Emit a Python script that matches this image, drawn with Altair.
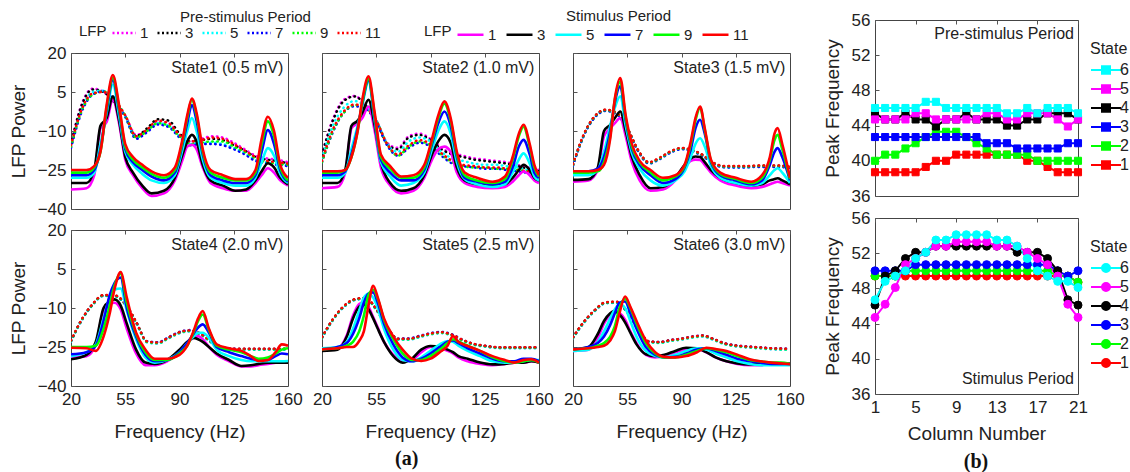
import altair as alt
import pandas as pd

FONT = "Liberation Sans"
TXT = "#222222"

# ---------------- categories / labels ----------------
LFP_IDS = ["1", "3", "5", "7", "9", "11"]
LFP_COLORS = ["#ff00ff", "#000000", "#00ffff", "#0000ff", "#00ff00", "#ff0000"]
PRE_KEYS = ["p" + k for k in LFP_IDS]
STIM_KEYS = ["s" + k for k in LFP_IDS]
STATE_IDS = ["6", "5", "4", "3", "2", "1"]
STATE_COLORS = ["#00ffff", "#ff00ff", "#000000", "#0000ff", "#00ff00", "#ff0000"]
STATE_LABELS = ["State1 (0.5 mV)", "State2 (1.0 mV)", "State3 (1.5 mV)",
                "State4 (2.0 mV)", "State5 (2.5 mV)", "State6 (3.0 mV)"]
FREQ_TICKS = [20, 55, 90, 125, 160]
POWER_TICKS = [20, 5, -10, -25, -40]
COLUMN_TICKS = [1, 5, 9, 13, 17, 21]
PEAK_TICKS = [36, 40, 44, 48, 52, 56]
COLUMNS = list(range(1, 22))

# ---------------- pre-stimulus LFP power (dotted) ----------------
FREQ_PRE = [20, 27, 34, 41, 48, 55, 62, 69, 76, 83, 90, 97, 104, 111, 118, 125, 132, 139, 146, 153, 160]

PRE_1 = {
    "1": [-15, 0.5, 6.3, 5, 1, -4, -11.5, -9.5, -6.5, -7, -11.5, -14, -13, -12, -12.5, -14.5, -17, -19.5, -20.5, -21, -22],
    "3": [-15, 0, 6, 5, 1, -4.5, -12, -9, -5.5, -6, -11, -14, -13.5, -13, -13.5, -15.5, -17.5, -20, -21, -21.5, -22.5],
    "5": [-16, -1.5, 5, 5.5, 1.5, -4.5, -12.5, -10, -7, -8, -12, -15, -14.5, -14.5, -15, -16.5, -18.5, -21, -22, -22.5, -23],
    "7": [-16.5, -2.5, 4, 5.2, 2, -4.5, -13, -10.5, -7.5, -8.5, -12.5, -15.5, -15, -15, -15.5, -17, -19, -21.5, -22.5, -23, -23.5],
    "9": [-16, -2, 4, 5.2, 2, -4, -12.5, -10, -7, -8, -12, -15, -14.5, -14, -14, -16, -18, -20.5, -22, -22.5, -23],
    "11": [-15.5, -1.5, 4.5, 5, 2, -4, -12, -9.5, -6, -7, -11.5, -14, -13.5, -12.5, -13, -15, -17.5, -20, -21.5, -22, -22.5],
}
PRE_2 = {
    "1": [-19, -5.5, 2, 3.5, 0, -6, -14.5, -16.5, -12, -11, -13, -16.5, -18.5, -19.5, -20.5, -21, -21.5, -22, -23, -24, -25],
    "3": [-19, -6, 1.5, 3.3, 0, -6, -15, -17, -12.5, -11.5, -13.5, -17, -19, -20, -21, -21.5, -22, -22.5, -23.5, -24.5, -25.5],
    "5": [-20.5, -8, -1, 1.5, -0.5, -6, -15, -18, -14, -12.5, -14, -18, -20.5, -21.5, -22.5, -23, -23, -23.5, -24, -25, -25.5],
    "7": [-22, -10.5, -3, -0.5, -1.5, -6.5, -15.5, -19.5, -16.5, -14.5, -16, -19.5, -22.5, -23.5, -24, -24.5, -24.5, -25, -25.5, -26, -26],
    "9": [-22, -10, -3, 0, -1, -6, -15, -19.5, -16, -14, -15.5, -19, -22, -23.5, -24, -24, -24.5, -24.5, -25, -25.5, -26],
    "11": [-21.5, -9.5, -2.5, 0.2, -1, -6, -15, -19, -15.5, -13.5, -15, -18.5, -21.5, -23, -23.5, -24, -24, -24.5, -25, -25.5, -26],
}
PRE_3 = {
    "1": [-23.1, -11.6, -4.6, -2.1, -3.2, -9.1, -17.6, -22.3, -20.6, -18.1, -16.8, -17.6, -19.6, -22.6, -23.8, -23.8, -23.8, -23.6, -23.6, -23.6, -24.1],
    "3": [-22.9, -11.4, -4.4, -1.9, -3, -8.9, -17.4, -22.1, -20.4, -17.9, -16.6, -17.4, -19.4, -22.4, -23.6, -23.6, -23.6, -23.4, -23.4, -23.4, -23.9],
    "5": [-23.2, -11.7, -4.7, -2.2, -3.3, -9.2, -17.7, -22.4, -20.7, -18.2, -16.9, -17.7, -19.7, -22.7, -23.9, -23.9, -23.9, -23.7, -23.7, -23.7, -24.2],
    "7": [-23.3, -11.8, -4.8, -2.3, -3.4, -9.3, -17.8, -22.5, -20.8, -18.3, -17, -17.8, -19.8, -22.8, -24, -24, -24, -23.8, -23.8, -23.8, -24.3],
    "9": [-23, -11.5, -4.5, -2, -3.1, -9, -17.5, -22.2, -20.5, -18, -16.7, -17.5, -19.5, -22.5, -23.7, -23.7, -23.7, -23.5, -23.5, -23.5, -24],
    "11": [-22.8, -11.2, -4.3, -1.8, -3, -8.8, -17.3, -22, -20.2, -17.8, -16.5, -17.3, -19.3, -22.3, -23.5, -23.5, -23.5, -23.3, -23.3, -23.3, -23.8],
}
PRE_4 = {
    "1": [-22.8, -14.6, -8.7, -5.3, -5.4, -8.6, -15.6, -23.1, -23.6, -21.6, -19.6, -18.9, -20.4, -23.4, -25.4, -26, -26, -26, -26, -26, -26],
    "3": [-22.6, -14.4, -8.5, -5.1, -5.2, -8.4, -15.4, -22.9, -23.4, -21.4, -19.4, -18.7, -20.2, -23.2, -25.2, -25.8, -25.8, -25.8, -25.8, -25.8, -25.8],
    "5": [-22.9, -14.7, -8.8, -5.4, -5.5, -8.7, -15.7, -23.2, -23.7, -21.7, -19.7, -19, -20.5, -23.5, -25.5, -26.1, -26.1, -26.1, -26.1, -26.1, -26.1],
    "7": [-22.7, -14.5, -8.6, -5.2, -5.3, -8.5, -15.5, -22.8, -23.2, -21.2, -19.2, -18.5, -20, -23, -25.1, -25.7, -25.8, -25.8, -25.8, -25.8, -25.8],
    "9": [-22.7, -14.5, -8.6, -5.2, -5.3, -8.5, -15.5, -23, -23.5, -21.5, -19.5, -18.8, -20.3, -23.3, -25.3, -25.9, -25.9, -25.9, -25.9, -25.9, -25.9],
    "11": [-22.5, -14.3, -8.4, -5, -5.1, -8.3, -15.3, -22.8, -23.3, -21.3, -19.3, -18.6, -20.1, -23.1, -25.1, -25.7, -25.7, -25.7, -25.7, -25.7, -25.7],
}
PRE_5 = {
    "1": [-21.5, -14.6, -9.6, -6.9, -6.4, -10.6, -17.6, -22.1, -22.1, -21.1, -20.1, -19.6, -20.6, -22.6, -24.1, -24.8, -25.3, -25.4, -25.4, -25.4, -25.4],
    "3": [-21.3, -14.4, -9.4, -6.7, -6.2, -10.4, -17.4, -21.9, -21.9, -20.9, -19.9, -19.4, -20.4, -22.4, -23.9, -24.6, -25.1, -25.2, -25.2, -25.2, -25.2],
    "5": [-21.6, -14.7, -9.7, -7, -6.5, -10.7, -17.7, -22.2, -22.2, -21.2, -20.2, -19.7, -20.7, -22.7, -24.2, -24.9, -25.4, -25.5, -25.5, -25.5, -25.5],
    "7": [-21.4, -14.5, -9.5, -6.8, -6.3, -10.5, -17.5, -21.8, -21.7, -20.7, -19.7, -19.2, -20.2, -22.3, -23.9, -24.6, -25.1, -25.2, -25.2, -25.2, -25.2],
    "9": [-21.4, -14.5, -9.5, -6.8, -6.3, -10.5, -17.5, -22, -22, -21, -20, -19.5, -20.5, -22.5, -24, -24.7, -25.2, -25.3, -25.3, -25.3, -25.3],
    "11": [-21.2, -14.3, -9.3, -6.6, -6.1, -10.3, -17.3, -21.8, -21.8, -20.8, -19.8, -19.3, -20.3, -22.3, -23.8, -24.5, -25, -25.1, -25.1, -25.1, -25.1],
}
PRE_6 = {
    "1": [-21.5, -15.6, -11.1, -8.1, -7.9, -11.6, -18.1, -23.1, -23.4, -22.6, -22.1, -21.3, -20.9, -22.3, -23.9, -24.7, -25.1, -25.4, -25.7, -25.9, -26],
    "3": [-21.3, -15.4, -10.9, -7.9, -7.7, -11.4, -17.9, -22.9, -23.2, -22.4, -21.9, -21.1, -20.7, -22.1, -23.7, -24.5, -24.9, -25.2, -25.5, -25.7, -25.8],
    "5": [-21.6, -15.7, -11.2, -8.2, -8, -11.7, -18.2, -23.2, -23.5, -22.7, -22.2, -21.4, -21, -22.4, -24, -24.8, -25.2, -25.5, -25.8, -26, -26.1],
    "7": [-21.4, -15.5, -11, -8, -7.8, -11.5, -18, -22.9, -23.1, -22.3, -21.8, -21, -20.6, -22, -23.6, -24.4, -24.8, -25.1, -25.4, -25.6, -25.7],
    "9": [-21.4, -15.5, -11, -8, -7.8, -11.5, -18, -23, -23.3, -22.5, -22, -21.2, -20.8, -22.2, -23.8, -24.6, -25, -25.3, -25.6, -25.8, -25.9],
    "11": [-21.2, -15.3, -10.8, -7.8, -7.6, -11.3, -17.8, -22.8, -23.1, -22.3, -21.8, -21, -20.6, -22, -23.6, -24.4, -24.8, -25.1, -25.4, -25.6, -25.7],
}

# ---------------- stimulus LFP power (solid) ----------------
FREQ_STIM_1 = [20, 30, 35, 39, 43, 47, 51, 55, 60, 66, 72, 80, 87, 92, 95, 98, 101, 105, 110, 118, 126, 133, 139, 143, 147, 151, 155, 160]
STIM_1 = {
    "1": [-32.5, -32, -27, -9, -6.5, 2, -7, -21, -27, -32, -35, -34, -29, -21, -16, -15.3, -17, -24, -30, -32, -33, -33, -30, -27, -24.3, -26, -29, -31],
    "3": [-30, -30, -25, -8, -5, 3.3, -6, -20, -26, -31, -34, -33, -28, -19, -14, -11.5, -14, -23, -29, -31, -33, -32.5, -29, -25.5, -22.4, -24, -28, -30.5],
    "5": [-28, -28, -26, -15, -3, 7.8, -4, -18, -23, -26.5, -29, -30, -27, -17, -10, -5, -10, -21, -28, -30, -31, -31, -28, -22, -16.6, -19.5, -26.5, -30],
    "7": [-27, -27, -25, -17, -2, 9.5, -2, -17, -22, -25, -27.5, -29, -26, -15, -7, 0, -6, -19, -27, -29, -30, -30, -27, -18, -9.6, -15, -25, -29.5],
    "9": [-26, -26, -24, -18, -1, 10.5, -1, -16, -21, -24, -26.5, -28, -25, -14, -5, 2, -4, -18, -26, -28, -29, -29, -26, -15, -6.3, -12, -24, -29],
    "11": [-25, -25, -23.5, -18, 0, 11.5, 0, -15, -20, -23, -25.5, -27, -24, -13, -4, 2.5, -3, -17, -25, -27, -28.5, -28.5, -25, -13, -4.5, -10, -23, -28],
}
FREQ_STIM_2 = [20, 30, 35, 39, 43, 46, 50, 54, 58, 64, 71, 79, 86, 91, 95, 99, 103, 107, 112, 120, 130, 138, 143, 147, 150, 154, 157, 160]
STIM_2 = {
    "1": [-32, -31.5, -26, -9, -7, -5, -0.6, -10, -24, -31, -34, -33, -28, -21, -17, -16, -18, -26, -30, -31.5, -32, -31.5, -29.5, -27, -25.6, -27, -29, -30],
    "3": [-30, -30, -25, -8, -6, -3, 2, -8, -22, -30, -33, -32, -27, -19, -14, -11.5, -14.5, -24, -29, -30.5, -31, -30.5, -28, -25, -23, -25, -28, -29],
    "5": [-28, -28, -26, -17, -8, 0, 9, -6, -22, -27.5, -31, -30, -26, -17, -10, -6.3, -11, -22, -28.5, -30.5, -31.5, -30.5, -26, -21, -18.6, -22.5, -27.5, -29],
    "7": [-27, -27, -25.5, -19, -9, 0.5, 9.5, -5, -21, -26, -29, -29, -25, -15, -7, -2.5, -8, -20, -28, -29.5, -30.5, -29.5, -24, -16, -13.4, -19, -26, -28],
    "9": [-26, -26, -25, -20, -10, 1, 10, -4, -20, -24.5, -28, -28, -24, -14, -5, 0.5, -6, -19, -27, -29, -30, -28.5, -21, -12, -8.3, -16, -24, -27.5],
    "11": [-25.5, -25.5, -25, -20, -10, 2, 11, -3, -19, -23.5, -27.5, -27, -23, -13, -4, 1.4, -5, -18, -26, -28, -29.5, -27.5, -20, -11, -7.6, -15, -23, -27],
}
FREQ_STIM_3 = [20, 30, 36, 40, 44, 47, 50.5, 54, 58, 63, 70, 78, 86, 92, 96, 99, 102, 105, 109, 115, 125, 135, 142, 147, 150, 152, 155, 160]
STIM_3 = {
    "1": [-29.5, -29, -25, -12, -9, -7, -5, -12, -22, -29, -33, -32.5, -29, -24, -21.5, -21, -21.1, -23, -26, -29, -31, -32, -31.5, -30.5, -29.8, -29.5, -30, -31],
    "3": [-28.8, -28.5, -24, -10, -7.6, -5, -2.5, -10, -20, -27, -32, -31.5, -28, -23, -20.5, -19.8, -20, -22, -25, -28, -30, -31, -30.5, -29, -28.5, -28.2, -29, -30.5],
    "5": [-27, -27, -25, -18, -8, -1, 3.3, -8, -18.5, -24.5, -29, -31, -29, -25.5, -20, -15, -12.8, -16, -23.5, -28, -30, -31, -30, -27, -25, -24.3, -26, -30],
    "7": [-25.5, -25.5, -24.5, -20, -10, 1, 7.2, -6, -17, -23, -27, -30, -28.5, -24, -17, -9, -5.7, -11, -22, -27, -29, -30.5, -29, -23, -18, -16.6, -20, -29],
    "9": [-26, -26, -25.5, -22, -12, 2, 9, -5, -16, -22, -26, -29, -27.5, -23.5, -15, -6, -1, -9.5, -21.5, -26.5, -28.5, -30, -28, -21, -13.5, -11.5, -17, -28.5],
    "11": [-25.5, -25.5, -25, -23, -13, 2.5, 10.4, -4, -15, -21.5, -25, -28, -27, -23, -14, -5, -0.6, -8.9, -21, -26, -28, -29.5, -27, -20, -11, -8.9, -15, -28],
}
FREQ_STIM_4 = [20, 30, 36, 41, 45, 48, 52, 56, 62, 68, 74, 82, 90, 95, 99, 102, 105, 109, 114, 122, 130, 136, 141, 147, 152, 156, 160]
STIM_4 = {
    "1": [-29, -28.5, -24, -11, -8.5, -8, -10.5, -18, -27.5, -32, -32, -30.5, -27, -23.5, -21.5, -20.8, -22, -25, -28, -30.5, -32.5, -32.5, -32, -31.5, -31, -30.5, -30.5],
    "3": [-29.7, -28, -23, -10, -7.5, -6.7, -9, -16, -26, -31, -31.5, -30, -26, -23, -21.5, -22, -23, -25, -27.5, -30, -32.3, -32, -31.5, -31, -31, -31, -31],
    "5": [-28.5, -27, -24, -14, -6, -3, -2.5, -11, -22, -29, -31, -30, -27, -23.5, -21, -19.5, -19.5, -21.5, -26, -28.5, -30, -30.5, -30.5, -30.5, -30.5, -30.5, -30.4],
    "7": [-27.8, -27, -24.5, -15, -5, -0.5, 1.7, -10, -21, -28, -30.5, -30, -27, -23.5, -20, -17.5, -16.3, -19.5, -25, -27, -28.5, -29.5, -30, -30, -28.5, -27.5, -27.8],
    "9": [-25, -25, -24.5, -18, -9, -1.5, 3.2, -8, -20, -27, -30, -30, -27.5, -24.5, -19.5, -15, -12.5, -18.5, -24.5, -26, -27, -28.5, -29.5, -29, -27.5, -26, -25.5],
    "11": [-25.3, -25.5, -26.5, -21, -12, -3, 3.8, -6, -19.5, -26, -29.5, -29.5, -28, -24.5, -19, -14, -11.2, -18, -24, -25.5, -26.5, -28.5, -30.4, -30, -27, -24, -24.5],
}
FREQ_STIM_5 = [20, 30, 36, 40, 44, 47, 50, 53, 56, 60, 66, 72, 78, 84, 90, 96, 101, 104.5, 108, 114, 122, 130, 138, 144, 150, 155, 160]
STIM_5 = {
    "1": [-26, -25.5, -20.5, -13, -8.5, -7.8, -9.5, -13.5, -17.5, -23, -28, -30.5, -30, -27, -25, -25.5, -26.5, -27.5, -29, -30.5, -31.5, -32, -31.5, -31, -31, -30.5, -31],
    "3": [-26.5, -26, -21, -14, -9.5, -8.6, -10.5, -14, -18, -23, -28.5, -31, -29.5, -26, -24.6, -25, -26, -27, -28.5, -29.5, -31, -31.7, -31.5, -31, -31, -30.5, -31],
    "5": [-25.5, -25, -23, -18, -11, -6, -4.5, -6, -10, -18, -26, -30, -30.5, -29, -26.5, -24, -22.7, -23, -24.5, -26.5, -28.5, -30.5, -31, -31, -30.5, -30, -30],
    "7": [-25.9, -25, -23.5, -20, -14, -8, -4.5, -4, -8, -16, -24, -29, -30.5, -29.5, -27.5, -25, -23, -22.5, -23.5, -25.5, -27.5, -29.5, -30.5, -30.5, -29.5, -29.5, -30.5],
    "9": [-25.9, -25.5, -24.5, -23, -19, -13, -5, -3, -6.5, -14.5, -22, -27.5, -30, -30, -28.5, -26, -23.5, -22, -23, -24.5, -26.5, -29, -30.5, -31, -30.5, -30, -31],
    "11": [-25.9, -25.5, -25, -25, -22.7, -19, -9, -1.5, -6, -14, -21, -26, -29.5, -30.4, -29.5, -27, -24.5, -20.8, -23, -24.6, -26.5, -28.5, -30, -31, -30, -29.7, -31],
}
FREQ_STIM_6 = [20, 30, 36, 40, 44, 47, 50, 53.6, 57, 61, 67, 73, 79, 86, 93, 100, 106, 112, 119, 126, 134, 141, 148, 154, 160]
STIM_6 = {
    "1": [-26.5, -26, -21.5, -16, -12.5, -11, -11.8, -14.5, -19, -23.5, -28, -29, -28.5, -27, -26, -25.8, -27, -29, -30.5, -31.5, -32, -32, -31.5, -31.5, -31.5],
    "3": [-26, -25, -20, -15, -12, -11.2, -12.5, -15.5, -19.5, -24, -27.8, -28.5, -28, -26.5, -25.3, -25.5, -27, -29, -30.5, -31.3, -31.7, -31.5, -31.5, -31.5, -31.5],
    "5": [-26.5, -26, -23, -19, -14, -10.5, -8.6, -10, -15, -21, -26.5, -28.5, -29, -28, -26.5, -25.5, -26, -27.5, -29, -30.5, -31.5, -32, -32, -32, -32],
    "7": [-25.9, -25, -23.5, -21, -16.5, -12, -8, -7.5, -12, -18, -25, -28, -29, -28.8, -27.5, -26, -25.5, -26.5, -28, -29.5, -30.5, -31, -31.5, -31.5, -31.5],
    "9": [-25.9, -25.5, -24.5, -23.5, -21, -17, -10, -6.5, -10, -16, -23.5, -27.5, -29, -29, -28, -26.5, -25.5, -26, -27, -28.5, -30, -30.5, -31, -31, -31.5],
    "11": [-25.9, -25.5, -25, -24.5, -22.5, -19, -12, -5.6, -9.5, -15, -22.5, -27, -28.8, -29, -28.5, -27, -25.3, -25.8, -26.5, -28, -29.7, -30.5, -31, -31.3, -31.6],
}

# ---------------- peak frequency vs column ----------------
PEAK_PRE = {
    "1": [38.7, 38.7, 38.7, 38.7, 38.7, 39.3, 40, 40, 40.7, 40.7, 40.7, 40.7, 40.7, 40.7, 40.7, 40, 40, 39.3, 38.7, 38.7, 38.7],
    "2": [40, 40.7, 40.7, 41.4, 42, 42.7, 43.3, 43.3, 43.3, 42.7, 42, 41.4, 40.7, 40.7, 40.7, 40.7, 40, 40, 40, 40, 40],
    "3": [42.7, 42.7, 42.7, 42.7, 42.7, 42.7, 42.7, 42.7, 42.7, 42.7, 42.7, 42, 42, 42, 41.4, 41.4, 41.4, 41.4, 41.4, 42, 42],
    "4": [45.4, 44.7, 44.7, 45.4, 44.7, 44.7, 43.9, 44.7, 44.7, 45.4, 44.7, 44.7, 44.7, 44, 44, 44.7, 44.7, 45.4, 45.4, 45.4, 44.7],
    "5": [44.7, 44.7, 44.7, 44.7, 45.4, 45.4, 44.7, 44.7, 44.7, 44.7, 44.7, 45.4, 45.4, 44.7, 44.7, 45.4, 45.4, 45.4, 44.7, 43.9, 44.7],
    "6": [46, 46, 46, 46, 46, 46.7, 46.7, 46, 46, 46, 46, 46, 46, 45.4, 45.4, 46, 45.4, 46, 46, 46, 45.4],
}
PEAK_STIM = {
    "1": [49.4, 49.4, 49.4, 49.4, 49.4, 49.4, 49.4, 49.4, 49.4, 49.4, 49.4, 49.4, 49.4, 49.4, 49.4, 49.4, 49.4, 49.4, 49.4, 49.4, 48.7],
    "2": [49.4, 49.4, 49.4, 50, 50, 50, 50, 50, 50, 50, 50, 50, 50, 50, 50, 50, 50, 50, 49.4, 49.4, 48.7],
    "3": [50, 50, 50, 50, 50.7, 50.7, 50.7, 50.7, 50.7, 50.7, 50.7, 50.7, 50.7, 50.7, 50.7, 50.7, 50.7, 50.7, 50, 49.4, 50],
    "4": [46.1, 49.4, 50, 51.4, 52.1, 52.1, 52.8, 52.8, 52.8, 52.8, 52.8, 52.8, 52.8, 52.8, 52.1, 52.1, 52.1, 51.4, 50, 46.7, 46.1],
    "5": [44.7, 46.2, 48.1, 50.7, 51.4, 52.1, 52.8, 52.8, 53.3, 53.3, 53.3, 53.3, 52.8, 52.8, 52.8, 52.1, 51.4, 50.7, 49.4, 46.2, 44.7],
    "6": [46.7, 48.8, 49.4, 50, 51.4, 52.1, 53.5, 53.5, 54.1, 54.1, 54.1, 54.1, 53.5, 53.5, 52.8, 51.4, 50, 49.4, 48.8, 48.8, 48.1],
}

# ---------------- tables ----------------
STATE_DATA = [(FREQ_STIM_1, STIM_1, PRE_1), (FREQ_STIM_2, STIM_2, PRE_2), (FREQ_STIM_3, STIM_3, PRE_3),
              (FREQ_STIM_4, STIM_4, PRE_4), (FREQ_STIM_5, STIM_5, PRE_5), (FREQ_STIM_6, STIM_6, PRE_6)]
pre_rows, stim_rows = [], []
for s, (fs, stim, pre) in enumerate(STATE_DATA, start=1):
    for k, pk, sk in zip(LFP_IDS, PRE_KEYS, STIM_KEYS):
        assert len(pre[k]) == len(FREQ_PRE), (s, k, "pre")
        assert len(stim[k]) == len(fs), (s, k, "stim")
        for f, v in zip(FREQ_PRE, pre[k]):
            pre_rows.append({"state": s, "pre_lfp": pk, "freq": f, "power": v})
        for f, v in zip(fs, stim[k]):
            stim_rows.append({"state": s, "stim_lfp": sk, "freq": f, "power": v})
pre_df = pd.DataFrame(pre_rows)
stim_df = pd.DataFrame(stim_rows)


def peak_table(d):
    rows = []
    for st in ["1", "2", "3", "4", "5", "6"]:
        for c, v in zip(COLUMNS, d[st]):
            rows.append({"state": st, "column": c, "peak": v})
    return pd.DataFrame(rows)


peak_pre_df = peak_table(PEAK_PRE)
peak_stim_df = peak_table(PEAK_STIM)

# ---------------- styles ----------------
AXIS_STYLE = dict(domain=False, ticks=False, grid=True, gridColor="#555555", gridDash=[4, 3000],
                  gridWidth=1, labelFont=FONT, labelFontSize=17, labelColor=TXT, labelFlush=False,
                  labelOverlap=False, minExtent=0, tickCount=20,
                  titleFont=FONT, titleFontSize=19, titleFontWeight="normal", titleColor=TXT,
                  labelPadding=5)

LEGEND_TEXT = dict(titleOrient="left", titleFont=FONT, titleFontSize=15, titleFontWeight="normal",
                   titleColor=TXT, titlePadding=4, titleBaseline="middle",
                   labelFont=FONT, labelFontSize=15, labelColor=TXT,
                   labelExpr="slice(datum.label, 1)", orient="none", direction="horizontal",
                   symbolType="stroke", symbolStrokeWidth=2.5)
PRE_LEGEND = alt.Legend(title="LFP", legendX=8, legendY=0, labelOffset=3, symbolSize=529,
                        symbolDash=[2, 2.5], columnPadding=3, **LEGEND_TEXT)
STIM_LEGEND = alt.Legend(title="LFP", legendX=353, legendY=0, labelOffset=3, symbolSize=676,
                         columnPadding=4, **LEGEND_TEXT)

LFP_W, LFP_H = 217, 156
PEAK_W, PEAK_H = 203, 176
HEAD_H = 12


def lfp_panel(i):
    s = i + 1
    row, col = divmod(i, 3)
    show_x = row == 1
    show_y = col == 0
    x = alt.X("freq:Q", scale=alt.Scale(domain=[20, 160], nice=False, zero=False),
              axis=alt.Axis(values=FREQ_TICKS, labels=show_x, titlePadding=15,
                            title="Frequency (Hz)" if show_x else None, **AXIS_STYLE))
    y = alt.Y("power:Q", scale=alt.Scale(domain=[-40, 20], nice=False, zero=False),
              axis=alt.Axis(values=POWER_TICKS, labels=show_y, titlePadding=9,
                            title="LFP Power" if show_y else None, **AXIS_STYLE))
    pre = alt.Chart(pre_df[pre_df.state == s]).mark_line(
        strokeWidth=2.5, strokeDash=[0.5, 4.5], strokeCap="round", interpolate="monotone", clip=True
    ).encode(x=x, y=y, color=alt.Color("pre_lfp:N", sort=PRE_KEYS,
                                       scale=alt.Scale(domain=PRE_KEYS, range=LFP_COLORS),
                                       legend=PRE_LEGEND))
    stim = alt.Chart(stim_df[stim_df.state == s]).mark_line(
        strokeWidth=2.6, interpolate="monotone", clip=True
    ).encode(x=x, y=y, stroke=alt.Stroke("stim_lfp:N", sort=STIM_KEYS,
                                         scale=alt.Scale(domain=STIM_KEYS, range=LFP_COLORS),
                                         legend=STIM_LEGEND))
    label = alt.Chart(pd.DataFrame({"label": [STATE_LABELS[i]]})).mark_text(
        align="right", baseline="middle", font=FONT, fontSize=16, color=TXT
    ).encode(x=alt.datum(157), y=alt.datum(14.3), text="label:N")
    chart = alt.layer(pre, stim, label).properties(width=LFP_W, height=LFP_H)
    if i == 0:
        chart = chart.properties(title=alt.TitleParams("Pre-stimulus Period", font=FONT, fontSize=15,
                                                       fontWeight="normal", color=TXT, anchor="middle",
                                                       dx=66, offset=19))
    elif i == 2:
        chart = chart.properties(title=alt.TitleParams("Stimulus Period", font=FONT, fontSize=15,
                                                       fontWeight="normal", color=TXT, anchor="middle",
                                                       dx=-63, offset=29))
    return chart


def spacer():
    return alt.Chart(pd.DataFrame({"v": [0]})).mark_point(opacity=0).properties(
        width=LFP_W, height=HEAD_H, view=alt.ViewBackground(stroke="transparent"))


def peak_panel(df, top):
    shape_path = ("M-1,0H2M0.1,-0.38H0.9V0.38H0.1Z" if top
                  else "M-1,0H2M0.9,0A0.4,0.4 0 1,1 0.1,0A0.4,0.4 0 1,1 0.9,0Z")
    leg = alt.Legend(title="State", orient="none", legendX=PEAK_W + 12, legendY=21,
                     titleFont=FONT, titleFontSize=16, titleFontWeight="normal", titleColor=TXT,
                     titlePadding=2, labelFont=FONT, labelFontSize=16, labelColor=TXT, labelOffset=8,
                     symbolType=shape_path, symbolSize=400, symbolStrokeWidth=2, rowPadding=0)
    scale = alt.Scale(domain=STATE_IDS, range=STATE_COLORS)
    x = alt.X("column:Q", scale=alt.Scale(domain=[1, 21], nice=False, zero=False),
              axis=alt.Axis(values=COLUMN_TICKS, labels=not top, titlePadding=9,
                            title=None if top else "Column Number", **AXIS_STYLE))
    y = alt.Y("peak:Q", scale=alt.Scale(domain=[36, 56], nice=False, zero=False),
              axis=alt.Axis(values=PEAK_TICKS, title="Peak Frequency", titlePadding=9, **AXIS_STYLE))
    line = alt.Chart(df).mark_line(strokeWidth=2).encode(
        x=x, y=y, stroke=alt.Stroke("state:N", scale=scale, legend=leg))
    pts = alt.Chart(df).mark_point(shape="square" if top else "circle", size=50 if top else 64,
                                   filled=True, strokeWidth=1, opacity=1).encode(
        x=x, y=y,
        fill=alt.Fill("state:N", scale=scale, legend=leg),
        stroke=alt.Stroke("state:N", scale=scale, legend=leg))
    txt = alt.Chart(pd.DataFrame({"label": ["Pre-stimulus Period" if top else "Stimulus Period"]})).mark_text(
        align="right", baseline="top" if top else "bottom", font=FONT, fontSize=16, color=TXT
    ).encode(x=alt.datum(20.6), y=alt.datum(55.3 if top else 36.8), text="label:N")
    return alt.layer(line, pts, txt).properties(width=PEAK_W, height=PEAK_H)


left_block = alt.concat(
    spacer(), spacer(), spacer(),
    lfp_panel(0), lfp_panel(1), lfp_panel(2),
    lfp_panel(3), lfp_panel(4), lfp_panel(5),
    columns=3, spacing={"row": 21, "column": 34}, bounds="flush", align="each",
).properties(
    title=alt.TitleParams("(a)", orient="bottom", anchor="middle", font="Liberation Serif",
                          fontWeight="bold", fontSize=20, color="#111111", offset=7))

right_block = alt.vconcat(peak_panel(peak_pre_df, True), peak_panel(peak_stim_df, False),
                          spacing=22, bounds="flush").resolve_scale(
    stroke="independent", fill="independent").properties(
    title=alt.TitleParams("(b)", orient="bottom", anchor="middle", font="Liberation Serif",
                          fontWeight="bold", fontSize=20, color="#111111", offset=8))

chart = alt.hconcat(left_block, right_block, spacing=17).resolve_scale(
    color="independent", stroke="independent", fill="independent"
).configure_view(stroke="#444444", strokeWidth=1).properties(
    background="white", padding={"left": 8, "top": 8, "right": 0, "bottom": 0})

chart.save("out.html", embed_options={"renderer": "svg", "actions": False})
